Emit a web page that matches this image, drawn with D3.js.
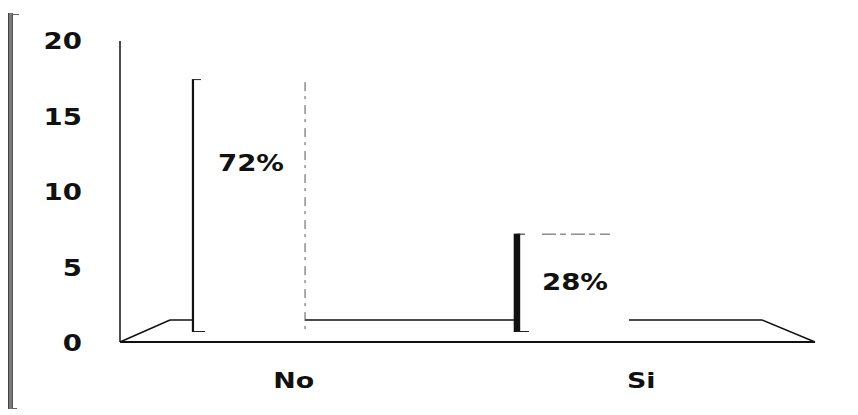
<!DOCTYPE html>
<html>
<head>
<meta charset="utf-8">
<script src="https://cdn.jsdelivr.net/npm/d3@7"></script>
<style>
  html, body { margin: 0; padding: 0; background: #fff; }
  svg { display: block; }
  text { font-family: "DejaVu Sans", Verdana, sans-serif; font-weight: bold; fill: #111; }
</style>
</head>
<body>
<svg id="chart" width="858" height="415"></svg>
<script>
// Responses per answer and their share of the total
const categories = ["No", "Si"];
const counts = [18, 7];
const percentLabels = ["72%", "28%"];
const yTicks = [0, 5, 10, 15, 20];

const W = 858, H = 415;
const svg = d3.select("#chart");

// Front axis (tick labels) and floor geometry
const plotLeft = 120, plotRight = 815;
const floorFront = 342, floorBack = 320, floorInset = 50;
const y = d3.scaleLinear().domain([0, 20]).range([343, 41]);

// Bars sit in the middle depth of the 3D floor
const barY = d3.scaleLinear().domain([0, 20]).range([332, 51]);
const barX = d3.scaleBand().domain(categories).range([87, 735])
  .paddingInner(0.654).paddingOuter(0.327);
const labelX = d3.scaleBand().domain(categories).range([plotLeft, plotRight]);

const stretch = 1.2;

// Page frame on the left
svg.append("rect").attr("x", 8).attr("y", 13).attr("width", 5).attr("height", 396)
  .attr("fill", "#7a7a7a");
svg.append("line").attr("x1", 8.5).attr("x2", 8.5).attr("y1", 13).attr("y2", 409)
  .attr("stroke", "#444").attr("stroke-width", 1);
svg.append("line").attr("x1", 12.5).attr("x2", 12.5).attr("y1", 13).attr("y2", 409)
  .attr("stroke", "#555").attr("stroke-width", 1);
svg.append("line").attr("x1", 12).attr("x2", 19).attr("y1", 14.5).attr("y2", 14.5)
  .attr("stroke", "#666").attr("stroke-width", 1);
svg.append("line").attr("x1", 12).attr("x2", 17).attr("y1", 408.5).attr("y2", 408.5)
  .attr("stroke", "#666").attr("stroke-width", 1);

// Y tick labels
const tickG = svg.append("g");
tickG.selectAll("g").data(yTicks).join("g")
  .attr("transform", d => `translate(82,${y(d)}) scale(${stretch},1)`)
  .append("text")
  .attr("text-anchor", "end")
  .attr("dy", "0.36em")
  .attr("font-size", 23)
  .text(d => d);

// Vertical axis line
svg.append("line")
  .attr("x1", plotLeft).attr("x2", plotLeft)
  .attr("y1", y(20)).attr("y2", floorFront)
  .attr("stroke", "#111").attr("stroke-width", 1.5);

// Floor: back edge, side edges and front edge
const floor = svg.append("g").attr("stroke", "#111").attr("fill", "none");
floor.append("line")
  .attr("x1", plotLeft + floorInset).attr("x2", plotRight - floorInset - 3)
  .attr("y1", floorBack).attr("y2", floorBack).attr("stroke-width", 1.6);
floor.append("line")
  .attr("x1", plotLeft).attr("y1", floorFront)
  .attr("x2", plotLeft + floorInset).attr("y2", floorBack).attr("stroke-width", 1.4);
floor.append("line")
  .attr("x1", plotRight - floorInset - 3).attr("y1", floorBack)
  .attr("x2", plotRight).attr("y2", floorFront).attr("stroke-width", 1.4);
floor.append("line")
  .attr("x1", plotLeft).attr("x2", plotRight)
  .attr("y1", floorFront).attr("y2", floorFront).attr("stroke-width", 2.2);

// Bars (white faces, outlined)
const bars = svg.append("g").selectAll("g").data(categories).join("g");

bars.append("rect")
  .attr("x", d => barX(d))
  .attr("y", (d, i) => barY(counts[i]))
  .attr("width", barX.bandwidth())
  .attr("height", (d, i) => barY(0) - barY(counts[i]))
  .attr("fill", "#fff");

// Left edge of each bar, heavier on the short one
bars.append("line")
  .attr("x1", d => barX(d)).attr("x2", d => barX(d))
  .attr("y1", (d, i) => barY(counts[i]))
  .attr("y2", barY(0))
  .attr("stroke", "#111")
  .attr("stroke-width", (d, i) => i === 0 ? 2.2 : 6.5);

// Small feet at top and bottom of the left edge
bars.append("line")
  .attr("x1", d => barX(d)).attr("x2", d => barX(d) + 8)
  .attr("y1", (d, i) => barY(counts[i]) + 0.5).attr("y2", (d, i) => barY(counts[i]) + 0.5)
  .attr("stroke", "#222").attr("stroke-width", 1);
bars.append("line")
  .attr("x1", d => barX(d)).attr("x2", d => barX(d) + 12)
  .attr("y1", barY(0) - 0.5).attr("y2", barY(0) - 0.5)
  .attr("stroke", "#222").attr("stroke-width", 1);

// Faint right edge on the tall bar, faint top edge on the short bar
bars.filter((d, i) => i === 0).append("line")
  .attr("x1", d => barX(d) + barX.bandwidth()).attr("x2", d => barX(d) + barX.bandwidth())
  .attr("y1", (d, i) => barY(counts[0]) + 3).attr("y2", barY(0) - 2)
  .attr("stroke", "#555").attr("stroke-width", 1)
  .attr("stroke-dasharray", "9,5,3,6");
bars.filter((d, i) => i === 1).append("line")
  .attr("x1", d => barX(d) + 25).attr("x2", d => barX(d) + 93)
  .attr("y1", barY(counts[1]) + 0.5).attr("y2", barY(counts[1]) + 0.5)
  .attr("stroke", "#555").attr("stroke-width", 1)
  .attr("stroke-dasharray", "14,4,6,5");

// Percentage labels on the bars
bars.append("g")
  .attr("transform", (d, i) => {
    const top = barY(counts[i]);
    const h = barY(0) - top;
    const cy = top + 25 + 0.23 * h;
    return `translate(${barX(d) + barX.bandwidth() / 2 + 2},${cy}) scale(${stretch},1)`;
  })
  .append("text")
  .attr("text-anchor", "middle")
  .attr("dy", "0.36em")
  .attr("font-size", 23)
  .text((d, i) => percentLabels[i]);

// Category labels
svg.append("g").selectAll("g").data(categories).join("g")
  .attr("transform", d => `translate(${labelX(d) + labelX.bandwidth() / 2},388) scale(1.28,1)`)
  .append("text")
  .attr("text-anchor", "middle")
  .attr("font-size", 21)
  .text(d => d);
</script>
</body>
</html>
